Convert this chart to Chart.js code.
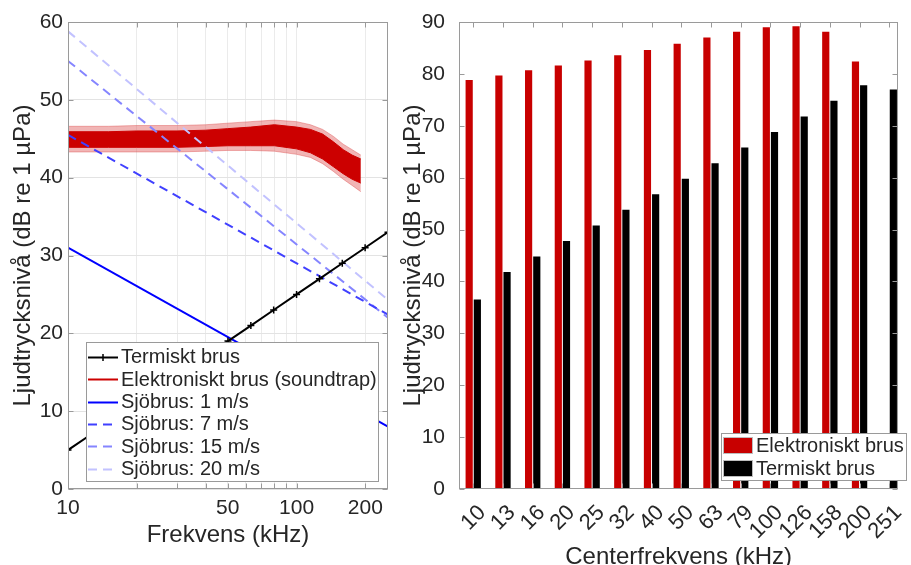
<!DOCTYPE html>
<html>
<head>
<meta charset="utf-8">
<script src="https://cdn.jsdelivr.net/npm/chart.js@4.4.1/dist/chart.umd.min.js"></script>
<style>
  html, body { margin: 0; padding: 0; background: #fff; overflow: hidden; }
  #wrap { position: relative; width: 911px; height: 565px; }
  #left-box { position: absolute; left: 0; top: 0; width: 400px; height: 565px; }
  #right-box { position: absolute; left: 400px; top: 0; width: 511px; height: 565px; }
</style>
</head>
<body>
<div id="wrap">
  <div id="left-box"><canvas id="noise-chart"></canvas></div>
  <div id="right-box"><canvas id="band-chart"></canvas></div>
</div>
<script>
// Left panel: noise spectra (kHz, dB re 1 µPa)
const thermalFreq = [10, 12.6, 15.8, 20, 25.1, 31.6, 39.8, 50.1, 63.1, 79.4, 100, 125.9, 158.5, 199.5, 251.2];
const thermalLevel = [5, 7, 9, 11, 13, 15, 17, 19, 21, 23, 25, 27, 29, 31, 33];

const seaFreq = [10, 251.2];
const sea1 = [31, 8];
const sea7 = [45.5, 22.4];
const sea15 = [55, 22];
const sea20 = [58.8, 24.3];

// electronic noise (soundtrap) read as a band: dense core and spiky fringe
const elecFreq = [10, 15, 20, 30, 40, 50, 63, 80, 100, 115, 130, 145, 160, 175, 191];
const elecCoreTop = [45.9, 45.9, 46.0, 46.0, 46.1, 46.3, 46.5, 46.8, 46.5, 46.2, 45.6, 44.6, 43.6, 42.9, 42.4];
const elecCoreLow = [43.9, 43.9, 43.9, 43.9, 44.0, 44.1, 44.1, 44.1, 43.7, 43.2, 42.4, 41.4, 40.5, 39.8, 39.3];
const elecOuterTop = [46.6, 46.6, 46.7, 46.7, 46.8, 47.0, 47.2, 47.4, 47.2, 46.8, 46.2, 45.3, 44.3, 43.6, 42.9];
const elecOuterLow = [43.3, 43.3, 43.3, 43.3, 43.4, 43.5, 43.5, 43.4, 43.0, 42.6, 41.8, 40.8, 39.8, 39.0, 38.2];

const freqTicks = [10, 20, 30, 40, 50, 60, 70, 80, 90, 100, 200];
const freqLabels = [10, 50, 100, 200];

// Right panel: band levels per center frequency
const bandLabels = ['10', '13', '16', '20', '25', '32', '40', '50', '63', '79', '100', '126', '158', '200', '251'];
const electronicBand = [78.8, 79.7, 80.7, 81.6, 82.6, 83.6, 84.6, 85.8, 87.0, 88.1, 89.0, 89.2, 88.1, 82.4, null];
const thermalBand = [36.5, 41.8, 44.8, 47.8, 50.8, 53.8, 56.8, 59.8, 62.8, 65.8, 68.8, 71.8, 74.8, 77.8, 77.0];

const textColor = '#262626';
const axisColor = '#9a9a9a';
Chart.defaults.font.family = "'Liberation Sans', Arial, sans-serif";
Chart.defaults.color = textColor;

const pts = (xs, ys) => xs.map((x, i) => ({ x: x, y: ys[i] }));

// box around the plot with inward ticks on all four sides
const framePlugin = {
  id: 'frame',
  afterDatasetsDraw(chart) {
    const ctx = chart.ctx;
    const a = chart.chartArea;
    const l = Math.round(a.left) + 0.5, r = Math.round(a.right) - 0.5;
    const t = Math.round(a.top) + 0.5, b = Math.round(a.bottom) - 0.5;
    ctx.save();
    ctx.strokeStyle = axisColor;
    ctx.lineWidth = 1;
    ctx.strokeRect(l, t, r - l, b - t);
    ctx.beginPath();
    const xs = chart.scales.x, ys = chart.scales.y;
    xs.ticks.forEach((tk, i) => {
      const px = Math.round(xs.getPixelForTick(i)) + 0.5;
      ctx.moveTo(px, b); ctx.lineTo(px, b - 5);
      ctx.moveTo(px, t); ctx.lineTo(px, t + 5);
    });
    ys.ticks.forEach((tk, i) => {
      const py = Math.round(ys.getPixelForTick(i)) + 0.5;
      ctx.moveTo(l, py); ctx.lineTo(l + 5, py);
      ctx.moveTo(r, py); ctx.lineTo(r - 5, py);
    });
    ctx.stroke();
    ctx.restore();
  }
};

// legend drawn inside the plot area
function boxLegend(items, o) {
  return {
    id: 'boxLegend',
    afterDraw(chart) {
      const ctx = chart.ctx;
      ctx.save();
      ctx.fillStyle = '#fff';
      ctx.fillRect(o.left, o.top, o.width, o.height);
      ctx.strokeStyle = axisColor;
      ctx.lineWidth = 1;
      ctx.strokeRect(o.left + 0.5, o.top + 0.5, o.width, o.height);
      ctx.font = "20px 'Liberation Sans', Arial, sans-serif";
      ctx.textBaseline = 'middle';
      items.forEach((it, i) => {
        const ds = chart.data.datasets[it];
        const y = o.top + o.first + i * o.row;
        if (o.swatch) {
          ctx.fillStyle = ds.backgroundColor;
          ctx.fillRect(o.left + 2, Math.round(y - 8.5), 30, 17);
          ctx.strokeStyle = '#bdbdbd';
          ctx.strokeRect(o.left + 2.5, Math.round(y - 8.5) + 0.5, 29, 16);
        } else {
          const yy = Math.round(y) + 0.5;
          ctx.strokeStyle = ds.borderColor;
          ctx.lineWidth = 2;
          ctx.setLineDash(ds.borderDash || []);
          ctx.beginPath();
          ctx.moveTo(o.left + 2, yy);
          ctx.lineTo(o.left + 32, yy);
          ctx.stroke();
          ctx.setLineDash([]);
          if (ds.pointStyle === 'cross') {
            ctx.lineWidth = 1.5;
            ctx.beginPath();
            ctx.moveTo(o.left + 17, yy - 3.5);
            ctx.lineTo(o.left + 17, yy + 3.5);
            ctx.stroke();
          }
        }
        ctx.fillStyle = textColor;
        ctx.fillText(ds.label, o.left + o.textX, y + 1);
      });
      ctx.restore();
    }
  };
}

// Initialize noise spectrum chart
const noiseCtx = document.getElementById('noise-chart').getContext('2d');
const noiseChart = new Chart(noiseCtx, {
  type: 'line',
  data: {
    datasets: [
      { label: 'Termiskt brus', data: pts(thermalFreq, thermalLevel), borderColor: '#000', borderWidth: 2,
        pointStyle: 'cross', pointRadius: 3.5, pointBorderWidth: 1.5, pointBorderColor: '#000' },
      { label: 'Sjöbrus: 1 m/s', data: pts(seaFreq, sea1), borderColor: '#0000ff', borderWidth: 2 },
      { label: 'Sjöbrus: 7 m/s', data: pts(seaFreq, sea7), borderColor: '#4040ff', borderWidth: 2, borderDash: [9, 6] },
      { label: 'Sjöbrus: 15 m/s', data: pts(seaFreq, sea15), borderColor: '#8585ff', borderWidth: 2, borderDash: [9, 6] },
      { label: 'Sjöbrus: 20 m/s', data: pts(seaFreq, sea20), borderColor: '#c2c2ff', borderWidth: 2, borderDash: [9, 6] },
      { label: 'Elektroniskt brus (soundtrap)', data: pts(elecFreq, elecCoreTop), borderColor: '#cc0000', borderWidth: 1,
        backgroundColor: '#cc0000', fill: '+1' },
      { label: 'core low', data: pts(elecFreq, elecCoreLow), borderColor: '#cc0000', borderWidth: 1 },
      { label: 'fringe high', data: pts(elecFreq, elecOuterTop), borderColor: 'rgba(220,70,70,0.4)', borderWidth: 1,
        backgroundColor: 'rgba(220,70,70,0.4)', fill: '+1' },
      { label: 'fringe low', data: pts(elecFreq, elecOuterLow), borderColor: 'rgba(220,70,70,0.4)', borderWidth: 1 }
    ]
  },
  options: {
    responsive: true,
    maintainAspectRatio: false,
    animation: false,
    events: [],
    layout: { padding: { left: 0, right: 12, top: 22, bottom: 0 } },
    elements: { point: { radius: 0 }, line: { tension: 0 } },
    plugins: { legend: { display: false }, tooltip: { enabled: false } },
    scales: {
      x: {
        type: 'logarithmic',
        min: 10,
        max: 251.2,
        afterBuildTicks: scale => { scale.ticks = freqTicks.map(v => ({ value: v })); },
        afterFit: scale => { scale.height = 76; },
        grid: { color: '#ebebeb', drawTicks: false },
        border: { display: false },
        ticks: {
          autoSkip: false, maxRotation: 0, padding: 7,
          font: { size: 21 }, color: textColor,
          callback: v => freqLabels.includes(v) ? String(v) : ''
        },
        title: { display: true, text: 'Frekvens (kHz)', font: { size: 24, lineHeight: 1 }, color: textColor,
          padding: { top: 0, bottom: 18 } }
      },
      y: {
        min: 0,
        max: 60,
        afterFit: scale => { scale.width = 68; },
        grid: { color: '#e3e3e3', drawTicks: false },
        border: { display: false },
        ticks: { stepSize: 10, padding: 5, font: { size: 21 }, color: textColor },
        title: { display: true, text: 'Ljudtrycksnivå (dB re 1 µPa)', font: { size: 24, lineHeight: 1 }, color: textColor,
          padding: { top: 11, bottom: 0 } }
      }
    }
  },
  plugins: [framePlugin, boxLegend([0, 5, 1, 2, 3, 4],
    { left: 86, top: 342, width: 292, height: 139, first: 14.7, row: 22.4, textX: 35 })]
});

// Initialize band level chart
const bandPts = vals => bandLabels.map((_, i) => ({ x: i + 1, y: vals[i] }));
const bandCtx = document.getElementById('band-chart').getContext('2d');
const bandChart = new Chart(bandCtx, {
  type: 'bar',
  data: {
    datasets: [
      { label: 'Elektroniskt brus', data: bandPts(electronicBand), backgroundColor: '#c80000' },
      { label: 'Termiskt brus', data: bandPts(thermalBand), backgroundColor: '#000000' }
    ]
  },
  options: {
    responsive: true,
    maintainAspectRatio: false,
    animation: false,
    events: [],
    layout: { padding: { left: 0, right: 3, top: 22, bottom: 0 } },
    datasets: { bar: { categoryPercentage: 0.55, barPercentage: 0.88 } },
    plugins: { legend: { display: false }, tooltip: { enabled: false } },
    scales: {
      x: {
        type: 'linear',
        min: 0.52,
        max: 15.3,
        offset: false,
        afterBuildTicks: scale => { scale.ticks = bandLabels.map((_, i) => ({ value: i + 1 })); },
        afterFit: scale => { scale.height = 76; },
        grid: { display: false, offset: false },
        border: { display: false },
        ticks: {
          autoSkip: false, minRotation: 45, maxRotation: 45, padding: 3, labelOffset: 9,
          font: { size: 22 }, color: textColor,
          callback: v => bandLabels[v - 1] || ''
        },
        title: { display: true, text: 'Centerfrekvens (kHz)', font: { size: 24, lineHeight: 0.6 }, color: textColor,
          padding: { top: 0, bottom: 0 } }
      },
      y: {
        min: 0,
        max: 90,
        afterFit: scale => { scale.width = 59; },
        grid: { display: false },
        border: { display: false },
        ticks: { stepSize: 10, padding: 6, font: { size: 21 }, color: textColor },
        title: { display: true, text: 'Ljudtrycksnivå (dB re 1 µPa)', font: { size: 24, lineHeight: 1 }, color: textColor,
          padding: { top: 1, bottom: 0 } }
      }
    }
  },
  plugins: [framePlugin, boxLegend([0, 1],
    { left: 321, top: 433, width: 185, height: 47, first: 12.5, row: 22.8, textX: 35, swatch: true })]
});
</script>
</body>
</html>
